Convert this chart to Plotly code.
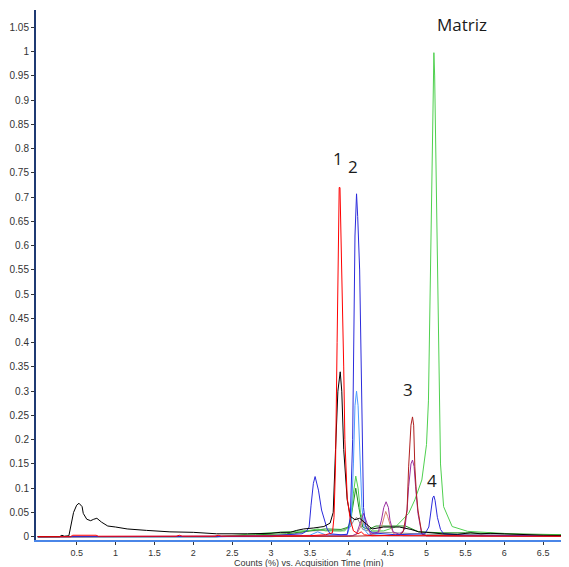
import plotly.graph_objects as go

# ---------------- data ----------------
black_t = [0.0, 0.28, 0.31, 0.34, 0.40, 0.42, 0.46, 0.50, 0.53, 0.57, 0.585, 0.63, 0.68, 0.72, 0.76, 0.82, 0.90, 1.00, 1.15, 1.40, 1.70, 2.00,
           2.30, 2.70, 3.00, 3.12, 3.25, 3.33, 3.42, 3.55, 3.68, 3.76, 3.80, 3.83, 3.86, 3.89, 3.91, 3.935, 3.96, 3.98, 4.02, 4.08,
           4.14, 4.20, 4.30, 4.45, 4.65, 4.80, 4.90, 5.00, 5.20, 5.40, 5.57, 5.70, 5.82, 6.00, 6.26, 6.50, 6.82]
black_v = [0.0, 0.0, 0.003, 0.001, 0.002, 0.02, 0.05, 0.065, 0.069, 0.062, 0.048, 0.036, 0.033, 0.036, 0.038, 0.030, 0.022, 0.020, 0.016, 0.013, 0.010, 0.009,
           0.006, 0.006, 0.007, 0.009, 0.009, 0.013, 0.016, 0.018, 0.021, 0.028, 0.05, 0.18, 0.30, 0.34, 0.30, 0.18, 0.11, 0.076, 0.042, 0.035,
           0.038, 0.030, 0.016, 0.02, 0.02, 0.015, 0.01, 0.009, 0.006, 0.005, 0.008, 0.006, 0.007, 0.006, 0.004, 0.003, 0.002]

red_t = [0.0, 0.42, 0.45, 0.75, 0.78, 1.78, 1.82, 1.86, 2.28, 2.32, 2.36, 3.0, 3.5, 3.70, 3.79, 3.81, 3.83, 3.85, 3.865, 3.877,
         3.887, 3.90, 3.925, 3.935, 3.95, 3.98, 4.02, 4.06, 4.12, 4.16, 4.20, 4.3, 5.0, 6.0, 6.82]
red_v = [0.0, 0.0, 0.003, 0.003, 0.001, 0.001, 0.003, 0.001, 0.001, 0.003, 0.001, 0.001, 0.002, 0.004, 0.008, 0.04, 0.15, 0.40, 0.62, 0.72,
         0.72, 0.62, 0.50, 0.35, 0.20, 0.08, 0.035, 0.012, 0.006, 0.01, 0.004, 0.002, 0.002, 0.002, 0.001]

blue_t = [0.0, 2.3, 3.0, 3.4, 3.46, 3.49, 3.515, 3.545, 3.567, 3.61, 3.65, 3.72, 3.76, 3.90, 3.98, 4.02, 4.05, 4.065, 4.08, 4.10,
          4.115, 4.14, 4.155, 4.17, 4.19, 4.22, 4.30, 4.60, 4.98, 5.03, 5.06, 5.08, 5.095, 5.11, 5.14, 5.18, 5.22, 5.5, 6.82]
blue_v = [0.0, 0.0, 0.002, 0.006, 0.012, 0.02, 0.065, 0.11, 0.124, 0.096, 0.055, 0.017, 0.006, 0.004, 0.005, 0.04, 0.2, 0.45, 0.62, 0.707,
          0.66, 0.55, 0.40, 0.2, 0.06, 0.02, 0.008, 0.004, 0.006, 0.02, 0.055, 0.08, 0.084, 0.075, 0.04, 0.015, 0.006, 0.003, 0.002]

lblue_t = [0.0, 3.0, 3.5, 3.6, 3.7, 3.98, 4.03, 4.06, 4.08, 4.10, 4.12, 4.14, 4.17, 4.20, 4.25, 4.5, 6.82]
lblue_v = [0.0, 0.0, 0.003, 0.01, 0.004, 0.004, 0.03, 0.15, 0.27, 0.30, 0.27, 0.18, 0.06, 0.015, 0.005, 0.002, 0.001]

green_t = [0.0, 2.3, 2.7, 3.2, 3.5, 3.6, 3.7, 3.95, 4.03, 4.06, 4.09, 4.12, 4.15, 4.2, 4.3, 4.45, 4.6, 4.77, 4.85, 4.94, 5.0,
           5.025, 5.045, 5.066, 5.085, 5.095, 5.105, 5.126, 5.145, 5.16, 5.18, 5.22, 5.33, 5.53, 5.8, 6.2, 6.82]
green_v = [0.0, 0.0, 0.005, 0.01, 0.013, 0.016, 0.012, 0.012, 0.03, 0.09, 0.125, 0.10, 0.05, 0.025, 0.012, 0.012, 0.02, 0.048, 0.076, 0.117, 0.19,
           0.28, 0.50, 0.75, 0.95, 0.998, 0.95, 0.75, 0.55, 0.40, 0.15, 0.062, 0.021, 0.011, 0.008, 0.005, 0.003]

dgreen_t = [0.0, 2.3, 2.8, 3.2, 3.5, 3.7, 3.9, 4.0, 4.05, 4.09, 4.13, 4.18, 4.25, 4.35, 4.73, 4.9, 5.2, 5.5, 6.0, 6.82]
dgreen_v = [0.0, 0.0, 0.004, 0.006, 0.012, 0.016, 0.015, 0.02, 0.06, 0.10, 0.06, 0.02, 0.015, 0.022, 0.022, 0.01, 0.008, 0.008, 0.006, 0.004]

dred_t = [0.0, 4.0, 4.65, 4.70, 4.75, 4.77, 4.80, 4.82, 4.835, 4.85, 4.87, 4.89, 4.94, 5.0, 6.82]
dred_v = [0.0, 0.001, 0.003, 0.01, 0.055, 0.144, 0.23, 0.247, 0.23, 0.144, 0.09, 0.055, 0.006, 0.002, 0.001]

purple_t = [0.0, 3.5, 4.05, 4.10, 4.15, 4.19, 4.23, 4.28, 4.38, 4.42, 4.45, 4.48, 4.51, 4.53, 4.57, 4.65, 4.72, 4.75, 4.77,
            4.80, 4.82, 4.84, 4.86, 4.89, 4.94, 5.0, 6.82]
purple_v = [0.0, 0.001, 0.002, 0.006, 0.03, 0.048, 0.03, 0.005, 0.01, 0.034, 0.06, 0.072, 0.06, 0.034, 0.01, 0.005, 0.015, 0.055, 0.103,
            0.15, 0.158, 0.145, 0.103, 0.048, 0.005, 0.002, 0.001]

salmon_t = [0.0, 4.0, 4.10, 4.15, 4.18, 4.22, 4.30, 4.38, 4.42, 4.45, 4.475, 4.50, 4.54, 4.58, 4.7, 6.82]
salmon_v = [0.0, 0.001, 0.004, 0.02, 0.035, 0.02, 0.004, 0.008, 0.02, 0.04, 0.052, 0.042, 0.02, 0.006, 0.002, 0.001]

gray_t = [0.0, 3.0, 3.3, 3.5, 3.7, 3.9, 4.02, 4.07, 4.10, 4.13, 4.18, 4.3, 4.6, 5.0, 6.82]
gray_v = [0.0, 0.001, 0.006, 0.012, 0.013, 0.012, 0.02, 0.035, 0.04, 0.032, 0.015, 0.01, 0.008, 0.005, 0.002]

x_tickvals = [0.5, 1, 1.5, 2, 2.5, 3, 3.5, 4, 4.5, 5, 5.5, 6, 6.5]
x_ticktext = ["0.5", "1", "1.5", "2", "2.5", "3", "3.5", "4", "4.5", "5", "5.5", "6", "6.5"]
y_tickvals = [0, 0.05, 0.1, 0.15, 0.2, 0.25, 0.3, 0.35, 0.4, 0.45, 0.5, 0.55, 0.6, 0.65, 0.7, 0.75, 0.8, 0.85, 0.9, 0.95, 1.0, 1.05]
y_ticktext = ["0", "0.05", "0.1", "0.15", "0.2", "0.25", "0.3", "0.35", "0.4", "0.45", "0.5", "0.55", "0.6", "0.65",
              "0.7", "0.75", "0.8", "0.85", "0.9", "0.95", "1", "1.05"]

peak_labels = ["Matriz", "1", "2", "3", "4"]
peak_label_x = [5.454, 3.866, 4.059, 4.767, 5.068]
peak_label_y = [1.0565, 0.780, 0.764, 0.304, 0.115]

# ---------------- figure ----------------
series = [
    (gray_t, gray_v, "#8c8c8c"),
    (dgreen_t, dgreen_v, "#1f8f1f"),
    (green_t, green_v, "#4fd04f"),
    (lblue_t, lblue_v, "#4b9bff"),
    (salmon_t, salmon_v, "#d88070"),
    (purple_t, purple_v, "#9a2fa0"),
    (dred_t, dred_v, "#b02020"),
    (blue_t, blue_v, "#2b2bdc"),
    (black_t, black_v, "#000000"),
    (red_t, red_v, "#ff0000"),
]

fig = go.Figure()
for t, v, c in series:
    fig.add_trace(go.Scatter(x=t, y=v, mode="lines", line=dict(color=c, width=1), hoverinfo="skip", showlegend=False))

for txt, ax, ay in zip(peak_labels, peak_label_x, peak_label_y):
    fig.add_annotation(x=ax, y=ay, text=txt, showarrow=False, xref="x", yref="y",
                       font=dict(family="Open Sans", size=17, color="#1a1a1a"))

fig.add_annotation(x=0.513, y=-0.0434, xref="paper", yref="paper", text="Counts (%) vs. Acquisition Time (min)",
                   showarrow=False, yanchor="middle", font=dict(family="Arial", size=9, color="#333333"))

# page body has an 8px default margin, so the figure is sized to fit the 569x567 window
fig.update_layout(
    width=561, height=559,
    margin=dict(l=28, r=1, t=2, b=27),
    paper_bgcolor="white", plot_bgcolor="white",
    showlegend=False,
)
fig.update_xaxes(range=[-0.023, 6.82], tickvals=x_tickvals, ticktext=x_ticktext, showgrid=False, zeroline=False,
                 showline=True, linecolor="#4a86e8", linewidth=2, ticks="outside", ticklen=3, tickcolor="#333333",
                 tickfont=dict(family="Arial", size=9, color="#333333"))
fig.update_yaxes(range=[-0.0068, 1.086], tickvals=y_tickvals, ticktext=y_ticktext, showgrid=False, zeroline=False,
                 showline=True, linecolor="#1f3a73", linewidth=2, ticks="outside", ticklen=3, tickcolor="#333333",
                 tickfont=dict(family="Arial", size=10, color="#333333"))

fig.write_html("out.html")
